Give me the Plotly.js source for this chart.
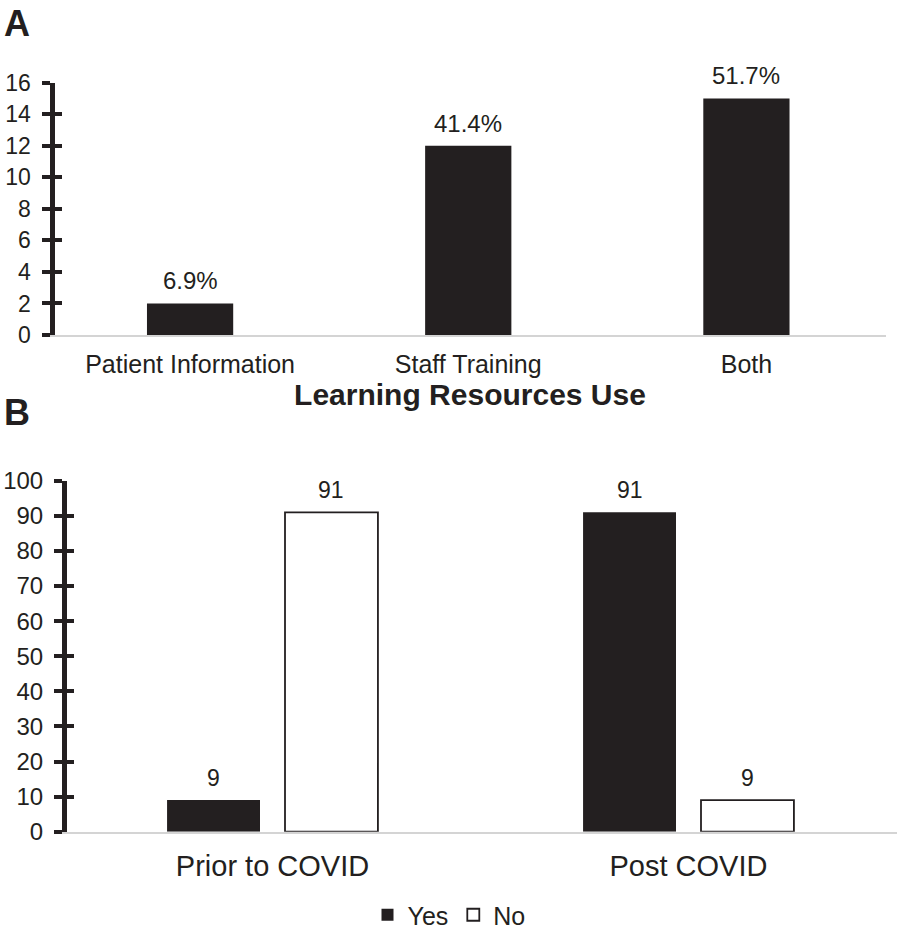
<!DOCTYPE html>
<html>
<head>
<meta charset="utf-8">
<script src="https://cdn.plot.ly/plotly-3.0.1.min.js"></script>
<style>html,body{margin:0;padding:0;background:#fff;}#chart{width:898px;height:932px;}</style>
</head>
<body>
<div id="chart"></div>
<script>
// Panel A data
const resourceCategories = ["Patient Information", "Staff Training", "Both"];
const resourceCounts = [2, 12, 15];
const resourcePercents = ["6.9%", "41.4%", "51.7%"];
const resourceTicks = [0, 2, 4, 6, 8, 10, 12, 14, 16];

// Panel B data
const covidCategories = ["Prior to COVID", "Post COVID"];
const yesValues = [9, 91];
const noValues = [91, 9];
const covidTicks = [0, 10, 20, 30, 40, 50, 60, 70, 80, 90, 100];

const INK = "#231f20";
const FONT = "Liberation Sans, Arial, sans-serif";
const BARGAP = 0.433;
const GROUPGAP = 0.212;

const traces = [
  {type: "bar", x: resourceCategories, y: resourceCounts, xaxis: "x", yaxis: "y",
   width: 0.31, marker: {color: INK, line: {width: 0}}, showlegend: false, hoverinfo: "x+y"},
  {type: "bar", name: "Yes", x: covidCategories, y: yesValues, xaxis: "x2", yaxis: "y2",
   marker: {color: INK, line: {color: INK, width: 0}}},
  {type: "bar", name: "No", x: covidCategories, y: noValues, xaxis: "x2", yaxis: "y2",
   marker: {color: "#ffffff", line: {color: INK, width: 1.8}}},
  // invisible carriers so the inner tick overlays are drawn
  {type: "scatter", mode: "markers", x: resourceCategories, y: resourceCounts, xaxis: "x", yaxis: "y3",
   marker: {opacity: 0}, showlegend: false, hoverinfo: "skip"},
  {type: "scatter", mode: "markers", x: covidCategories, y: yesValues, xaxis: "x2", yaxis: "y4",
   marker: {opacity: 0}, showlegend: false, hoverinfo: "skip"}
];

const annotations = [];
resourceCounts.forEach((v, i) => {
  annotations.push({xref: "x", yref: "y", x: i, y: v, text: resourcePercents[i], showarrow: false,
    yanchor: "bottom", yshift: 7, font: {family: FONT, size: 24, color: INK}});
});
const off = (1 - BARGAP) / 4;
[yesValues, noValues].forEach((arr, s) => {
  arr.forEach((v, i) => {
    annotations.push({xref: "x2", yref: "y2", x: i + (s === 0 ? -off : off), y: v, text: String(v),
      showarrow: false, yanchor: "bottom", yshift: 7, font: {family: FONT, size: 23, color: INK}});
  });
});
annotations.push({xref: "paper", yref: "paper", x: 0.002, y: 1, xanchor: "left", yanchor: "top", yshift: -1,
  text: "<b>A</b>", showarrow: false, font: {family: FONT, size: 36, color: INK}});
annotations.push({xref: "paper", yref: "paper", x: 0.002, y: 1 - 412/932, xanchor: "left", yanchor: "middle",
  text: "<b>B</b>", showarrow: false, font: {family: FONT, size: 36, color: INK}});

const yBase = (ticks, domain, size, anchor) => ({
  domain: domain, anchor: anchor, range: [ticks[0], ticks[ticks.length - 1]],
  tickvals: ticks, ticktext: ticks.map(String), ticks: "outside", ticklen: 8, tickwidth: 4, tickcolor: INK,
  showline: true, linecolor: INK, linewidth: 5, showgrid: false, zeroline: false,
  tickfont: {family: FONT, size: size, color: INK}, ticklabelstandoff: 6, fixedrange: true
});

const layout = {
  width: 898, height: 932,
  margin: {l: 0, r: 0, t: 0, b: 0, autoexpand: false},
  paper_bgcolor: "#ffffff", plot_bgcolor: "#ffffff",
  font: {family: FONT, color: INK},
  barmode: "group", bargap: BARGAP, bargroupgap: GROUPGAP,
  xaxis: {domain: [54.5/898, 885.5/898], anchor: "y", type: "category", range: [-0.5 + 3.5/278.25, 2.5],
    showline: true, linecolor: "#d4d4d4", linewidth: 2, ticks: "", showgrid: false, zeroline: false,
    tickfont: {family: FONT, size: 25, color: INK}, ticklabelstandoff: 6,
    title: {text: "<b>Learning Resources Use</b>", font: {family: FONT, size: 30, color: INK}, standoff: 6}},
  yaxis: yBase(resourceTicks, [1 - 335/932, 1 - 82.7/932], 23, "x"),
  yaxis3: Object.assign(yBase(resourceTicks, [1 - 335/932, 1 - 82.7/932], 23, "x"),
    {overlaying: "y", ticks: "inside", ticklen: 7, showline: false, showticklabels: false}),
  xaxis2: {domain: [67/898, 896.5/898], anchor: "y2", type: "category", range: [-0.5 + 2.5/416, 1.5],
    showline: true, linecolor: "#d4d4d4", linewidth: 2, ticks: "", showgrid: false, zeroline: false,
    tickfont: {family: FONT, size: 29, color: INK}, ticklabelstandoff: 7},
  yaxis2: yBase(covidTicks, [1 - 831.7/932, 1 - 480.7/932], 24, "x2"),
  yaxis4: Object.assign(yBase(covidTicks, [1 - 831.7/932, 1 - 480.7/932], 24, "x2"),
    {overlaying: "y2", ticks: "inside", ticklen: 7, showline: false, showticklabels: false}),
  legend: {orientation: "h", x: 0.5, xanchor: "center", y: 1 - 915/932, yanchor: "middle",
    font: {family: FONT, size: 25, color: INK}, traceorder: "normal", itemwidth: 30},
  annotations: annotations,
  showlegend: true
};

Plotly.newPlot("chart", traces, layout, {displayModeBar: false, staticPlot: true});
</script>
</body>
</html>
